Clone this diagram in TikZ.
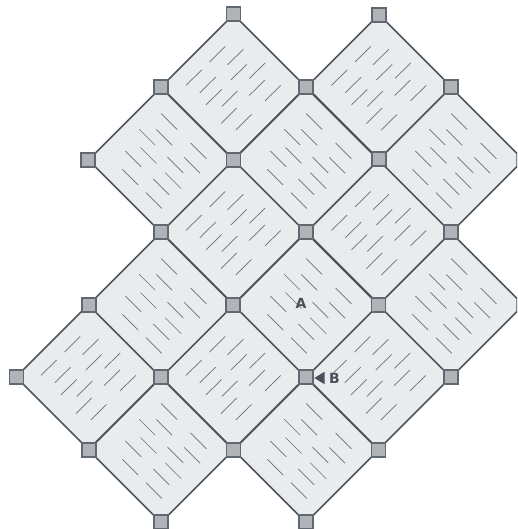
\documentclass[tikz,border=0pt]{standalone}
\usepackage{fontspec}
\setmainfont{DejaVu Sans}
\definecolor{tilefill}{HTML}{E9EBED}
\definecolor{edgecol}{HTML}{4C545D}
\definecolor{hatchcol}{HTML}{6A7077}
\definecolor{postfill}{HTML}{B0B4B8}
\definecolor{postedge}{HTML}{626870}
\definecolor{labelcol}{HTML}{4A515A}
\tikzset{
  tile/.style={fill=tilefill,draw=edgecol,line width=1.5pt,line join=round},
  hatch/.style={draw=hatchcol,line width=0.7pt,line cap=round},
  post/.style={fill=postfill,draw=postedge,line width=1.2pt},
  lab/.style={text=labelcol,font=\bfseries\fontsize{14}{15}\selectfont,inner sep=0pt},
  marker/.style={fill=labelcol,draw=none}
}
\newcommand{\octo}[2]{\path[tile] (#1-6.5,#2-66)--(#1+6.5,#2-66)--(#1+66,#2-6.5)--(#1+66,#2+6.5)--(#1+6.5,#2+66)--(#1-6.5,#2+66)--(#1-66,#2+6.5)--(#1-66,#2-6.5)--cycle;}
\newcommand{\tileF}[2]{\octo{#1}{#2}
  \foreach \a/\b in {-16.2/-32.7,2/-30,-39.7/-9.3,5.2/-14.7,23.8/-16.3,-25.8/-2,23.5/0.8,39.3/6.2,-19.7/10.2,-3.8/11.7,-4.7/28.8,10.2/35.2}
    {\draw[hatch] (#1+\a-7.8,#2+\b+7.7)--(#1+\a+7.8,#2+\b-7.7);}}
\newcommand{\tileB}[2]{\octo{#1}{#2}
  \foreach \a/\b in {8.2/-38.5,-13.8/-22.8,3.2/-22.7,37.5/-9.2,-12.5/-4.5,-27.8/-1.2,14.3/5,31.2/5.3,-30.7/17.2,12.2/20.7,0.2/26.8,-7.2/40.5}
    {\draw[hatch] (#1+\a-7.8,#2+\b-7.8)--(#1+\a+7.8,#2+\b+7.8);}}
\begin{document}
\begin{tikzpicture}[x=1pt,y=-1pt]
\useasboundingbox (0,0) rectangle (517,529);
\clip (0,0) rectangle (517,529);
\foreach \x/\y in {233.5/87,379/87,233.5/232,379/232,88.5/377,233.5/377,378.5/377} {\tileF{\x}{\y}}
\foreach \x/\y in {161/160,306/160,451/160,161/305,306/305,451/305,161/450,306/450} {\tileB{\x}{\y}}
\foreach \x/\y in {233.5/14,379/15,161/87,306/87,451/87,88/160,233.5/160,379/159,161/232,306/232,451/232,89/305,233/305,378.5/305,16.5/377,161/377,306/377,451/377,89/450,233.5/450,378.5/450,161/522,306/522}
  {\path[post] (\x-7,\y-7) rectangle (\x+7,\y+7);}
\path[marker] (314.3,378)--(324.5,371.8)--(324.5,384.2)--cycle;
\node[lab] (labelA) at (301,303) {A};
\node[lab] (labelB) at (334.5,378) {B};
\end{tikzpicture}
\end{document}
